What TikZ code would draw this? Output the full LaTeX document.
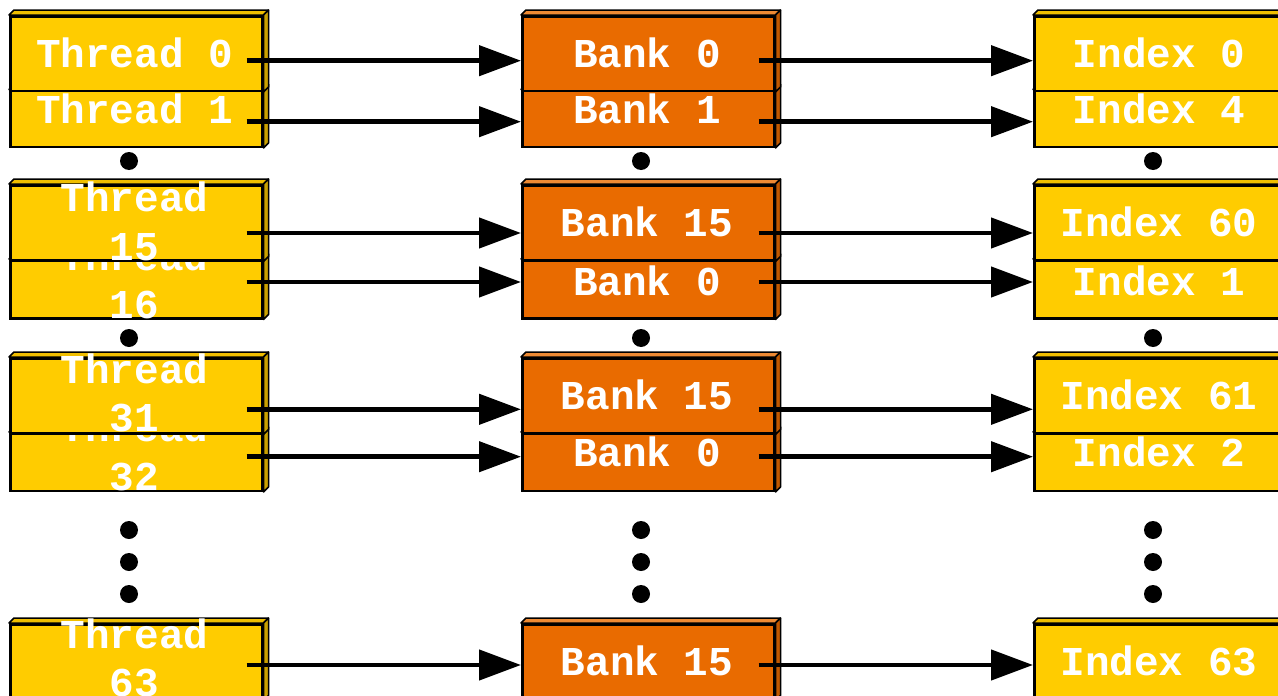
\documentclass[tikz,border=0pt]{standalone}
\usepackage{fontspec}
\setmonofont{Liberation Mono}
\usetikzlibrary{arrows.meta,calc}

\definecolor{goldface}{HTML}{FFCC00}
\definecolor{goldtop}{HTML}{F0BE00}
\definecolor{goldside}{HTML}{C9A000}
\definecolor{rustface}{HTML}{E96B00}
\definecolor{rusttop}{HTML}{EE8A33}
\definecolor{rustside}{HTML}{C05800}

\tikzset{
  slab/.style={draw=black, line width=2.5pt, inner sep=0pt, minimum width=252pt,
    rectangle, anchor=north west},
  facet/.style={draw=black, line width=1.5pt, line join=round},
  lbl/.style={text=white, inner sep=0pt, anchor=base,
    font=\fontsize{41}{48.5}\selectfont\ttfamily\bfseries},
  arr/.style={line width=4.5pt, -{Triangle[length=42pt,width=30pt]}},
  dot/.style={fill=black},
}

% a slab with a shallow top and right side: name, x, top, height, colour stem
\newcommand\slabat[5]{%
  \node[slab, fill=#5face, minimum height=#4pt] (#1) at (#2,#3) {};
  \filldraw[facet, fill=#5top] (#1.north west) -- ++(5,-5)
     -- ([shift={(5,-5)}]#1.north east) -- (#1.north east) -- cycle;
  \filldraw[facet, fill=#5side] (#1.north east) -- ++(5,-5)
     -- ([shift={(5,-5)}]#1.south east) -- (#1.south east) -- cycle;
}
% centred label sitting on a baseline: name, x, baseline, text
\newcommand\labelat[4]{\node[lbl] (#1) at (#2,#3) {#4};}
\newcommand\twolines[2]{\begin{tabular}[t]{@{}c@{}}#1\\#2\end{tabular}}

\begin{document}
\begin{tikzpicture}[x=1pt, y=-1pt]
\useasboundingbox (0,0) rectangle (1278,696);
\clip (0,0) rectangle (1278,696);

% ---------- threads ----------
\slabat{t1}{9}{89.5}{56}{gold}
\labelat{lt1}{134.5}{123}{Thread 1}
\slabat{t0}{9}{15}{74.5}{gold}
\labelat{lt0}{134.5}{67}{Thread 0}

\slabat{t16}{9}{259}{58}{gold}
\labelat{lt16}{134.5}{270}{\twolines{Thread}{16}}
\slabat{t15}{9}{184}{75}{gold}
\labelat{lt15}{134.5}{211.7}{\twolines{Thread}{15}}

\slabat{t32}{9}{432}{57.5}{gold}
\labelat{lt32}{134.5}{441.7}{\twolines{Thread}{32}}
\slabat{t31}{9}{357}{75}{gold}
\labelat{lt31}{134.5}{383.3}{\twolines{Thread}{31}}

\slabat{t63}{9}{623}{75}{gold}
\labelat{lt63}{134.5}{648}{\twolines{Thread}{63}}

% ---------- banks ----------
\slabat{bA1}{521}{89.5}{56}{rust}
\labelat{lbA1}{647}{123}{Bank 1}
\slabat{bA0}{521}{15}{74.5}{rust}
\labelat{lbA0}{647}{67}{Bank 0}

\slabat{bB0}{521}{259}{58}{rust}
\labelat{lbB0}{647}{295}{Bank 0}
\slabat{bB15}{521}{184}{75}{rust}
\labelat{lbB15}{647}{236.7}{Bank 15}

\slabat{bC0}{521}{432}{57.5}{rust}
\labelat{lbC0}{647}{466.7}{Bank 0}
\slabat{bC15}{521}{357}{75}{rust}
\labelat{lbC15}{647}{409.3}{Bank 15}

\slabat{bD15}{521}{623}{75}{rust}
\labelat{lbD15}{647}{675}{Bank 15}

% ---------- indices ----------
\slabat{i4}{1033}{89.5}{56}{gold}
\labelat{li4}{1159}{123}{Index 4}
\slabat{i0}{1033}{15}{74.5}{gold}
\labelat{li0}{1159}{67}{Index 0}

\slabat{i1}{1033}{259}{58}{gold}
\labelat{li1}{1159}{295}{Index 1}
\slabat{i60}{1033}{184}{75}{gold}
\labelat{li60}{1159}{236.7}{Index 60}

\slabat{i2}{1033}{432}{57.5}{gold}
\labelat{li2}{1159}{466.7}{Index 2}
\slabat{i61}{1033}{357}{75}{gold}
\labelat{li61}{1159}{409.3}{Index 61}

\slabat{i63}{1033}{623}{75}{gold}
\labelat{li63}{1159}{675}{Index 63}

% ---------- arrow rows ----------
\coordinate (r1) at (0,60.7);
\coordinate (r2) at (0,121.7);
\coordinate (r3) at (0,233);
\coordinate (r4) at (0,282);
\coordinate (r5) at (0,409.3);
\coordinate (r6) at (0,456.7);
\coordinate (r7) at (0,665);

\foreach \t/\b/\i/\r in {t0/bA0/i0/r1, t1/bA1/i4/r2, t15/bB15/i60/r3,
    t16/bB0/i1/r4, t31/bC15/i61/r5, t32/bC0/i2/r6, t63/bD15/i63/r7}{
  \draw[arr] ($(\t.east |- \r)+(-17,0)$) -- (\b.west |- \r);
  \draw[arr] ($(\b.east |- \r)+(-17,0)$) -- (\i.west |- \r);
}

% ---------- ellipsis dots ----------
\foreach \x in {129,641,1153}{
  \foreach \y in {161,338,530,562,594}{
    \fill[dot] (\x,\y) circle[radius=9pt];
  }
}
\end{tikzpicture}
\end{document}
